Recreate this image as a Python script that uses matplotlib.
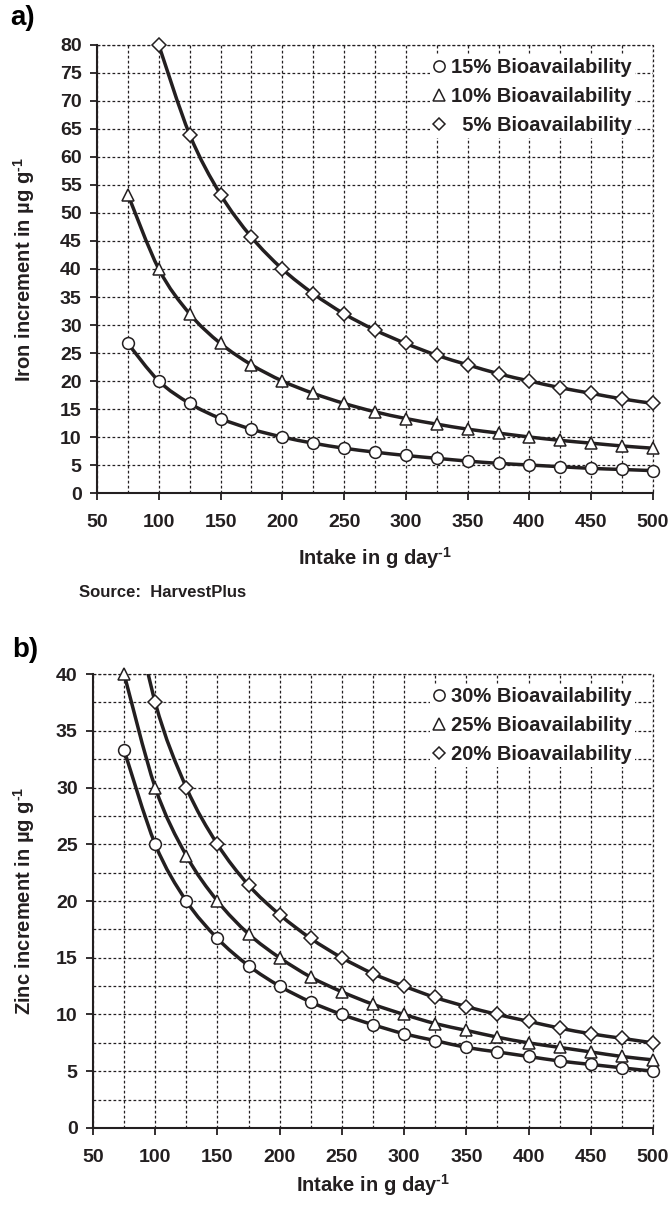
import matplotlib
matplotlib.use("Agg")
import matplotlib.pyplot as plt
from matplotlib.path import Path
from matplotlib.patches import PathPatch
from matplotlib.lines import Line2D
from matplotlib.ticker import MultipleLocator

plt.rcParams['font.family'] = ['Liberation Sans', 'DejaVu Sans']
plt.rcParams['font.weight'] = 'bold'
plt.rcParams['axes.labelweight'] = 'bold'
plt.rcParams['mathtext.fontset'] = 'custom'
plt.rcParams['mathtext.rm'] = 'Liberation Sans:bold'
plt.rcParams['mathtext.bf'] = 'Liberation Sans:bold'
plt.rcParams['mathtext.default'] = 'rm'

# Daily intake (g/day)
intake = [75, 100, 125, 150, 175, 200, 225, 250, 275, 300,
          325, 350, 375, 400, 425, 450, 475, 500]

# Iron increment (ug/g) needed, by bioavailability
iron_15 = [26.7, 20.0, 16.0, 13.3, 11.4, 10.0, 8.9, 8.0, 7.3, 6.7,
           6.2, 5.7, 5.3, 5.0, 4.7, 4.4, 4.2, 4.0]
iron_10 = [53.3, 40.0, 32.0, 26.7, 22.9, 20.0, 17.8, 16.0, 14.5, 13.3,
           12.3, 11.4, 10.7, 10.0, 9.4, 8.9, 8.4, 8.0]
iron_5_intake = intake[1:]
iron_5 = [80.0, 64.0, 53.3, 45.7, 40.0, 35.6, 32.0, 29.1, 26.7,
          24.6, 22.9, 21.3, 20.0, 18.8, 17.8, 16.8, 16.0]

# Zinc increment (ug/g) needed, by bioavailability
zinc_30 = [33.3, 25.0, 20.0, 16.7, 14.3, 12.5, 11.1, 10.0, 9.1, 8.3,
           7.7, 7.1, 6.7, 6.3, 5.9, 5.6, 5.3, 5.0]
zinc_25 = [40.0, 30.0, 24.0, 20.0, 17.1, 15.0, 13.3, 12.0, 10.9, 10.0,
           9.2, 8.6, 8.0, 7.5, 7.1, 6.7, 6.3, 6.0]
zinc_20 = [50.0, 37.5, 30.0, 25.0, 21.4, 18.8, 16.7, 15.0, 13.6, 12.5,
           11.5, 10.7, 10.0, 9.4, 8.8, 8.3, 7.9, 7.5]

iron_labels = ["15% Bioavailability", "10% Bioavailability", "  5% Bioavailability"]
zinc_labels = ["30% Bioavailability", "25% Bioavailability", "20% Bioavailability"]
marker_styles = ['o', '^', 'D']
marker_sizes = [8.5, 8.5, 6.8]

INK = '#231f20'


def smooth_path(xs, ys):
    """Smooth curve through the points (Catmull-Rom converted to cubic Bezier)."""
    pts = list(zip(xs, ys))
    n = len(pts)
    verts = [pts[0]]
    codes = [Path.MOVETO]
    for i in range(n - 1):
        p0 = pts[i - 1] if i > 0 else pts[i]
        p1 = pts[i]
        p2 = pts[i + 1]
        p3 = pts[i + 2] if i + 2 < n else pts[i + 1]
        c1 = (p1[0] + (p2[0] - p0[0]) / 6.0, p1[1] + (p2[1] - p0[1]) / 6.0)
        c2 = (p2[0] - (p3[0] - p1[0]) / 6.0, p2[1] - (p3[1] - p1[1]) / 6.0)
        verts += [c1, c2, p2]
        codes += [Path.CURVE4] * 3
    return Path(verts, codes)


def draw_series(ax, xs, ys, marker, ms):
    ax.add_patch(PathPatch(smooth_path(xs, ys), fill=False, edgecolor=INK,
                           linewidth=2.5, zorder=3, capstyle='round'))
    # markers sitting on the frame are drawn whole; points beyond the
    # value range get no marker
    ymax = ax.get_ylim()[1]
    shown = [(x, y) for x, y in zip(xs, ys) if y <= ymax]
    ax.plot([p[0] for p in shown], [p[1] for p in shown], linestyle='none',
            marker=marker, markersize=ms, markerfacecolor='white',
            markeredgecolor=INK, markeredgewidth=1.1, zorder=4, clip_on=False)


def style_axes(ax, ymax, ymajor, yminor):
    ax.set_xlim(50, 500)
    ax.set_ylim(0, ymax)
    ax.xaxis.set_major_locator(MultipleLocator(50))
    ax.xaxis.set_minor_locator(MultipleLocator(25))
    ax.yaxis.set_major_locator(MultipleLocator(ymajor))
    if yminor:
        ax.yaxis.set_minor_locator(MultipleLocator(yminor))
    grid_kw = dict(color=INK, linewidth=0.9, linestyle=(0, (2.2, 1.8)))
    ax.grid(True, which='both', axis='x', **grid_kw)
    ax.grid(True, which='major' if not yminor else 'both', axis='y', **grid_kw)
    ax.set_axisbelow(True)
    for side in ('top', 'right'):
        ax.spines[side].set_visible(False)
    for side in ('left', 'bottom'):
        ax.spines[side].set_linewidth(1.5)
        ax.spines[side].set_color(INK)
    ax.tick_params(axis='both', which='major', direction='out', length=5,
                   width=1.3, color=INK, labelcolor=INK)
    ax.tick_params(axis='y', which='major', labelsize=14, pad=6)
    ax.tick_params(axis='x', which='major', labelsize=14, pad=10)
    ax.tick_params(which='minor', length=0)
    # dotted frame on the open sides
    ax.plot([0, 1, 1], [1, 1, 0], transform=ax.transAxes, clip_on=False,
            zorder=1, **grid_kw)


def add_legend(ax, labels, anchor):
    handles = [Line2D([], [], linestyle='none', marker=m, markersize=s * 0.95,
                      markerfacecolor='white', markeredgecolor=INK,
                      markeredgewidth=1.1)
               for m, s in zip(marker_styles, marker_sizes)]
    leg = ax.legend(handles, labels, loc='upper right', bbox_to_anchor=anchor,
                    frameon=True, fancybox=False, framealpha=1.0,
                    facecolor='white', edgecolor='none', borderpad=0.15,
                    handlelength=0.6, handletextpad=0.3, labelspacing=0.5,
                    borderaxespad=0.0, prop={'size': 14.5, 'weight': 'bold'})
    for t in leg.get_texts():
        t.set_color(INK)
    leg.set_zorder(5)


def place_labels(ax, xlabel_y, ylabel_x):
    ax.xaxis.label.set_va('center')
    ax.yaxis.label.set_va('center')
    ax.xaxis.set_label_coords(0.5, xlabel_y)
    ax.yaxis.set_label_coords(ylabel_x, 0.5)


fig = plt.figure(figsize=(6.69, 12.06), dpi=100)

# a) iron
ax1 = fig.add_axes([0.145, 0.5912, 0.831, 0.3715])
style_axes(ax1, 80, 5, None)
draw_series(ax1, intake, iron_15, marker_styles[0], marker_sizes[0])
draw_series(ax1, intake, iron_10, marker_styles[1], marker_sizes[1])
draw_series(ax1, iron_5_intake, iron_5, marker_styles[2], marker_sizes[2])
ax1.set_xlabel(r"Intake in g day$^{\text{-1}}$", fontsize=14.5, color=INK)
ax1.set_ylabel(r"Iron increment in µg g$^{\text{-1}}$", fontsize=14.5, color=INK)
place_labels(ax1, -0.145, -0.131)
add_legend(ax1, iron_labels, (0.968, 0.978))

fig.text(79 / 669, 1 - 593 / 1206, "Source:  HarvestPlus", fontsize=12,
         fontweight='bold', color=INK, va='center', ha='left')
fig.text(10 / 669, 1 - 18 / 1206, "a)", fontsize=20, fontweight='bold',
         color='black', va='center', ha='left')

# b) zinc
ax2 = fig.add_axes([0.139, 0.0647, 0.837, 0.3764])
style_axes(ax2, 40, 5, 2.5)
draw_series(ax2, intake, zinc_30, marker_styles[0], marker_sizes[0])
draw_series(ax2, intake, zinc_25, marker_styles[1], marker_sizes[1])
draw_series(ax2, intake, zinc_20, marker_styles[2], marker_sizes[2])
ax2.set_xlabel(r"Intake in g day$^{\text{-1}}$", fontsize=14.5, color=INK)
ax2.set_ylabel(r"Zinc increment in µg g$^{\text{-1}}$", fontsize=14.5, color=INK)
place_labels(ax2, -0.1256, -0.123)
add_legend(ax2, zinc_labels, (0.968, 0.978))

fig.text(12 / 669, 1 - 650 / 1206, "b)", fontsize=20, fontweight='bold',
         color='black', va='center', ha='left')

fig.savefig("out.png", dpi=100, facecolor='white')
